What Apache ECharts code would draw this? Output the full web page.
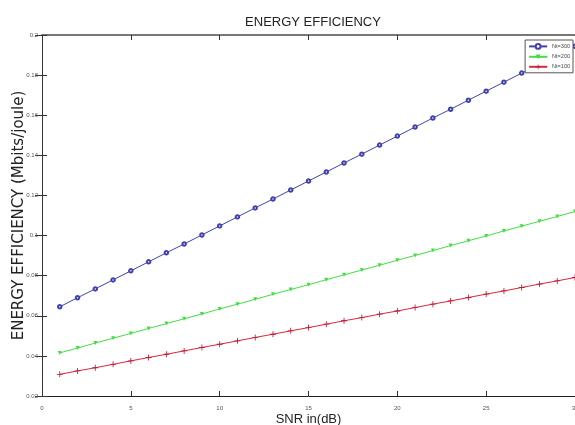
<!DOCTYPE html>
<html>
<head>
<meta charset="utf-8">
<script src="https://cdn.jsdelivr.net/npm/echarts@6/dist/echarts.min.js"></script>
<style>
html,body{margin:0;padding:0;background:#fff;}
#chart{width:575px;height:425px;}
</style>
</head>
<body>
<div id="chart"></div>
<script>
// SNR in dB
var snr = [1,2,3,4,5,6,7,8,9,10,11,12,13,14,15,16,17,18,19,20,21,22,23,24,25,26,27,28,29,30];
// energy efficiency
var nt300 = [0.0645,0.0690,0.0734,0.0779,0.0824,0.0869,0.0914,0.0958,0.1003,0.1048,
	0.1093,0.1138,0.1182,0.1227,0.1272,0.1317,0.1362,0.1406,0.1451,0.1496,
	0.1541,0.1586,0.1630,0.1675,0.1720,0.1765,0.1810,0.1854,0.1899,0.1944];
var nt200 = [0.0415,0.0439,0.0464,0.0488,0.0512,0.0537,0.0561,0.0585,0.0609,0.0634,
	0.0658,0.0682,0.0707,0.0731,0.0755,0.0780,0.0804,0.0828,0.0852,0.0877,
	0.0901,0.0925,0.0950,0.0974,0.0998,0.1023,0.1047,0.1071,0.1095,0.1120];
var nt100 = [0.0308,0.0325,0.0341,0.0358,0.0375,0.0392,0.0408,0.0425,0.0442,0.0458,
	0.0475,0.0492,0.0508,0.0525,0.0541,0.0558,0.0575,0.0591,0.0608,0.0624,
	0.0641,0.0658,0.0674,0.0691,0.0708,0.0724,0.0741,0.0758,0.0774,0.0791];
var seriesNames = ['Nt=300','Nt=200','Nt=100'];
var xTicks = [0,30,5];
var yTicks = [0.02,0.2,0.02];

function pairs(xs,ys){
	var out=[];
	for(var i=0;i<xs.length;i++){
		out.push([xs[i],ys[i]]);
	}
	return out;
}

var plusPath = 'path://M4.3,0H5.7V4.3H10V5.7H5.7V10H4.3V5.7H0V4.3H4.3Z';
var tickIn = {show:true,inside:true,length:5,lineStyle:{color:'#333'}};

var chart = echarts.init(document.getElementById('chart'));
var option = {
	backgroundColor:'#fff',
	animation:false,
	title:{
		text:'ENERGY EFFICIENCY',
		left:308,
		textAlign:'center',
		top:11,
		textStyle:{fontSize:13,fontWeight:'normal',color:'#222',fontFamily:'Liberation Sans Narrow, Liberation Sans'}
	},
	legend:{
		data:seriesNames,
		orient:'vertical',
		right:2,
		top:40,
		padding:[3,3,3,3],
		itemGap:4,
		itemWidth:18,
		itemHeight:6,
		backgroundColor:'#fff',
		borderColor:'#555',
		borderWidth:1,
		borderRadius:0,
		textStyle:{fontSize:5.5,color:'#444',fontFamily:'Liberation Sans'}
	},
	grid:{left:42,right:0,top:35,bottom:29,outerBoundsMode:'none'},
	xAxis:[
		{
			type:'value',min:xTicks[0],max:xTicks[1],interval:xTicks[2],
			name:'SNR in(dB)',nameLocation:'middle',nameGap:17,nameMoveOverlap:false,
			nameTextStyle:{fontSize:13,color:'#222',fontFamily:'Liberation Sans Narrow, Liberation Sans'},
			axisLine:{show:true,lineStyle:{color:'#222',width:1}},
			axisTick:tickIn,
			axisLabel:{show:true,fontSize:6,color:'#555',margin:9,fontFamily:'Liberation Sans'},
			splitLine:{show:false}
		},
		{
			type:'value',position:'top',min:xTicks[0],max:xTicks[1],interval:xTicks[2],
			axisLine:{show:true,lineStyle:{color:'#777',width:2}},
			axisTick:tickIn,
			axisLabel:{show:false},
			splitLine:{show:false}
		}
	],
	yAxis:[
		{
			type:'value',min:yTicks[0],max:yTicks[1],interval:yTicks[2],
			name:'ENERGY EFFICIENCY (Mbits/joule)',nameLocation:'middle',nameGap:15,nameMoveOverlap:false,
			nameTextStyle:{fontSize:15,color:'#222',fontFamily:'DejaVu Sans'},
			axisLine:{show:true,lineStyle:{color:'#222',width:1}},
			axisTick:tickIn,
			axisLabel:{show:true,fontSize:6,color:'#555',margin:4,fontFamily:'Liberation Sans',
				formatter:function(v){return String(+v.toFixed(2));}},
			splitLine:{show:false}
		},
		{
			type:'value',position:'right',min:yTicks[0],max:yTicks[1],interval:yTicks[2],
			axisLine:{show:true,lineStyle:{color:'#333',width:1}},
			axisTick:{show:true,inside:true,length:7,lineStyle:{color:'#333'}},
			axisLabel:{show:false},
			splitLine:{show:false}
		}
	],
	series:[
		{
			name:seriesNames[0],type:'line',data:pairs(snr,nt300),
			symbol:'emptyCircle',symbolSize:3.5,
			lineStyle:{color:'#4040b0',width:1},
			itemStyle:{color:'#4040b0',borderColor:'#4040b0',borderWidth:1}
		},
		{
			name:seriesNames[1],type:'line',data:pairs(snr,nt200),
			symbol:'triangle',symbolRotate:180,symbolSize:4,
			lineStyle:{color:'#44dd44',width:1},
			itemStyle:{color:'#44dd44'}
		},
		{
			name:seriesNames[2],type:'line',data:pairs(snr,nt100),
			symbol:plusPath,symbolSize:6,
			lineStyle:{color:'#d8283c',width:1},
			itemStyle:{color:'#b81c2c'}
		}
	]
};
chart.setOption(option);
</script>
</body>
</html>
